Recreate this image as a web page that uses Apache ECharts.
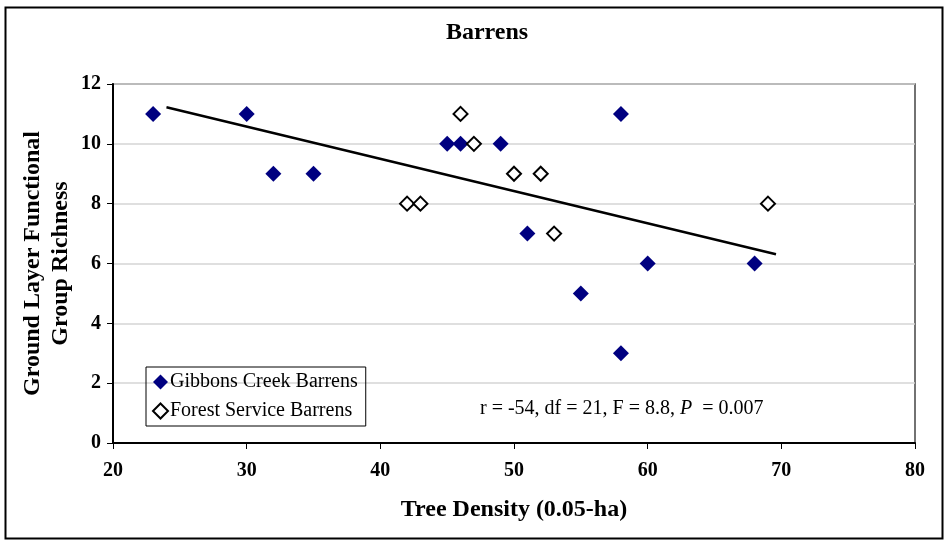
<!DOCTYPE html>
<html>
<head>
<meta charset="utf-8">
<title>Barrens</title>
<script src="https://cdn.jsdelivr.net/npm/echarts@6/dist/echarts.min.js"></script>
<style>
  html, body { margin: 0; padding: 0; background: #fff; }
  #chart { width: 945px; height: 540px; }
</style>
</head>
<body>
<div id="chart"></div>
<script>
// Gibbons Creek Barrens (filled diamonds)
var gibbonsX = [23, 30, 32, 35, 45, 46, 49, 51, 55, 58, 58, 60, 68];
var gibbonsY = [11, 11, 9, 9, 10, 10, 10, 7, 5, 11, 3, 6, 6];
// Forest Service Barrens (open diamonds)
var forestX = [42, 43, 46, 47, 50, 52, 53, 69];
var forestY = [8, 8, 11, 10, 9, 9, 7, 8];
// regression line ends
var trendX = [24, 69.6];
var trendY = [11.22, 6.31];

var serif = "'Liberation Serif', 'Times New Roman', serif";

function pairs(xs, ys) {
  return xs.map(function (x, i) { return [x, ys[i]]; });
}

var chart = echarts.init(document.getElementById('chart'));
var option = {
  animation: false,
  title: {
    text: 'Barrens',
    left: 482,
    top: 16,
    textAlign: 'center',
    textStyle: { fontFamily: serif, fontSize: 24, fontWeight: 'bold', color: '#000' }
  },
  grid: {
    left: 113, right: 30, top: 84, bottom: 97,
    show: true, borderColor: '#444', borderWidth: 1.5
  },
  legend: {
    orient: 'vertical',
    left: 146, top: 367,
    data: ['Gibbons Creek Barrens', 'Forest Service Barrens'],
    borderColor: '#000', borderWidth: 1,
    padding: [5, 8, 5, 6],
    itemGap: 9,
    itemWidth: 15, itemHeight: 15,
    textStyle: { fontFamily: serif, fontSize: 20, color: '#000', padding: [0, 0, 0, -3] }
  },
  xAxis: {
    type: 'value',
    min: 20, max: 80, interval: 10,
    name: 'Tree Density (0.05-ha)',
    nameLocation: 'middle',
    nameGap: 55,
    nameMoveOverlap: false,
    nameTextStyle: { fontFamily: serif, fontSize: 24, fontWeight: 'bold', color: '#000' },
    axisLine: { lineStyle: { color: '#000', width: 2 } },
    axisTick: { show: true, inside: false, length: 6, lineStyle: { color: '#000' } },
    axisLabel: { fontFamily: serif, fontSize: 20, fontWeight: 'bold', color: '#000', margin: 18 },
    splitLine: { show: false }
  },
  yAxis: {
    type: 'value',
    min: 0, max: 12, interval: 2,
    name: 'Ground Layer Functional\nGroup Richness',
    nameLocation: 'middle',
    nameGap: 38,
    nameMoveOverlap: false,
    nameTextStyle: { fontFamily: serif, fontSize: 24, fontWeight: 'bold', color: '#000', lineHeight: 28 },
    axisLine: { show: true, lineStyle: { color: '#000', width: 2 } },
    axisTick: { show: true, inside: false, length: 6, lineStyle: { color: '#000' } },
    axisLabel: { fontFamily: serif, fontSize: 20, fontWeight: 'bold', color: '#000', margin: 12 },
    splitLine: { show: true, lineStyle: { color: '#d4d4d4', width: 1.5 } }
  },
  graphic: [
    {
      type: 'rect',
      left: 3, top: 5,
      shape: { width: 937, height: 531 },
      style: { fill: 'none', stroke: '#000', lineWidth: 2 },
      silent: true
    },
    {
      type: 'text',
      left: 480, top: 399,
      style: {
        text: '{a|r = -54, df = 21, F = 8.8, }{i|P}{a|  = 0.007}',
        rich: {
          a: { fontFamily: serif, fontSize: 20, fill: '#000' },
          i: { fontFamily: serif, fontSize: 20, fontStyle: 'italic', fill: '#000' }
        }
      }
    }
  ],
  series: [
    {
      name: 'Gibbons Creek Barrens',
      type: 'scatter',
      symbol: 'diamond',
      symbolSize: 16,
      itemStyle: { color: '#000080', opacity: 1 },
      data: pairs(gibbonsX, gibbonsY),
      z: 3
    },
    {
      name: 'Forest Service Barrens',
      type: 'scatter',
      symbol: 'diamond',
      symbolSize: 14,
      itemStyle: { color: '#fff', borderColor: '#000', borderWidth: 2, opacity: 1 },
      data: pairs(forestX, forestY),
      z: 3
    },
    {
      name: 'trend',
      type: 'line',
      showSymbol: false,
      symbol: 'none',
      lineStyle: { color: '#000', width: 2.5 },
      data: pairs(trendX, trendY),
      z: 2
    }
  ]
};
chart.setOption(option);
</script>
</body>
</html>
